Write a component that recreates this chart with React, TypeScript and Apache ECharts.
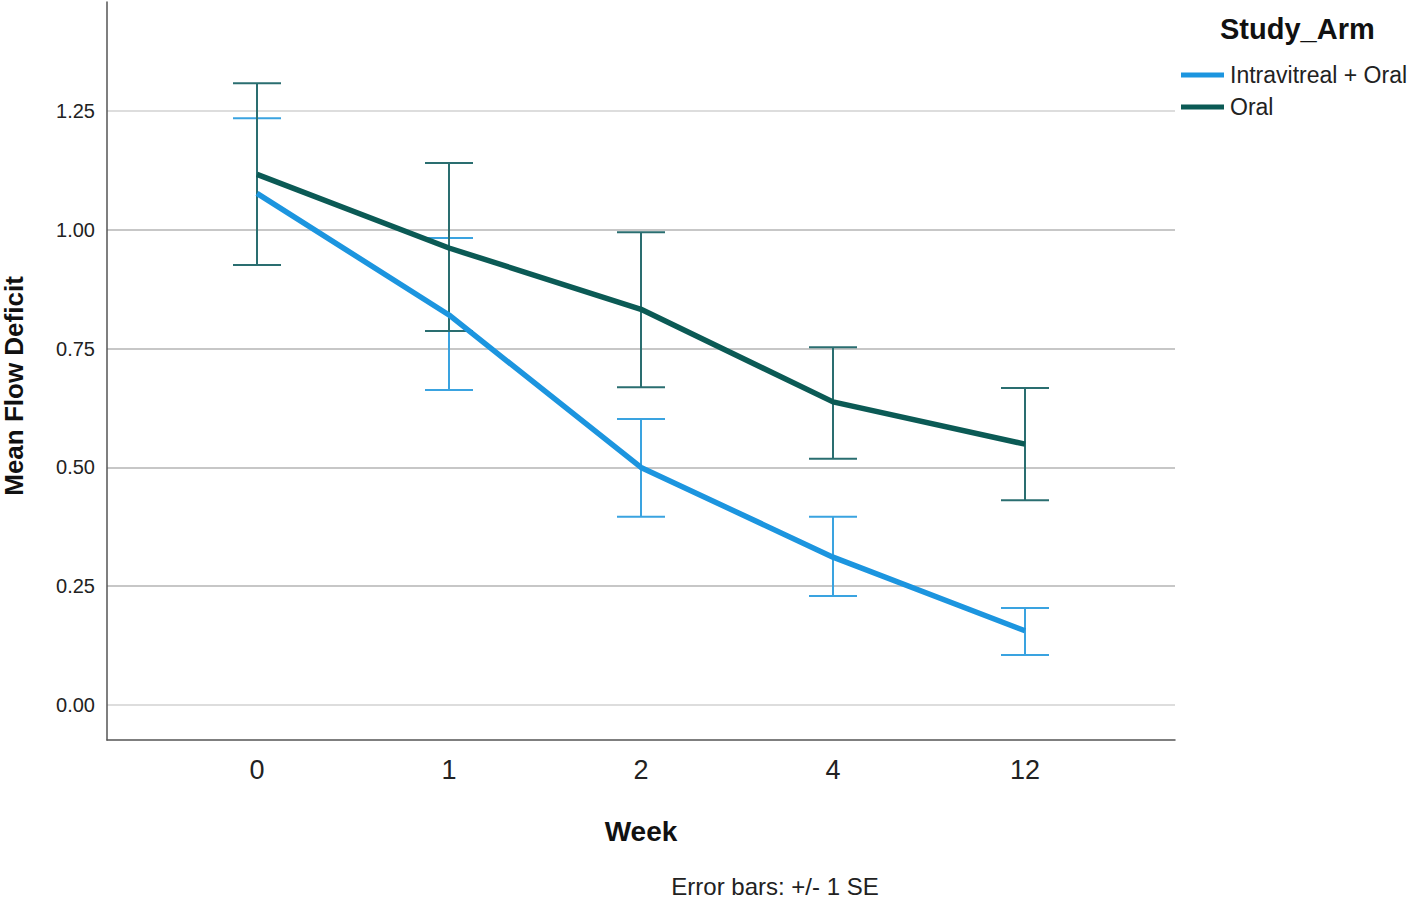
import React, { useEffect, useRef } from "react";
import * as echarts from "echarts";

const weekLabels = ["0", "1", "2", "4", "12"];
const yTicks = [0, 0.25, 0.5, 0.75, 1.0, 1.25];

const ivName = "Intravitreal + Oral";
const ivMean = [1.077, 0.821, 0.5, 0.311, 0.156];
const ivLow = [0.926, 0.663, 0.396, 0.229, 0.105];
const ivHigh = [1.235, 0.983, 0.602, 0.396, 0.204];

const oralName = "Oral";
const oralMean = [1.117, 0.962, 0.833, 0.638, 0.549];
const oralLow = [0.926, 0.787, 0.669, 0.518, 0.431];
const oralHigh = [1.309, 1.141, 0.995, 0.753, 0.667];

const FONT = "'Liberation Sans', Arial, sans-serif";

function errorSeries(name: string, low: number[], high: number[], color: string) {
  return {
    name,
    type: "custom",
    data: low.map((l, i) => [i, l, high[i]]),
    z: 3,
    renderItem: (params: any, api: any) => {
      const x = api.value(0);
      const lo = api.coord([x, api.value(1)]);
      const hi = api.coord([x, api.value(2)]);
      const hw = 24;
      const style = { stroke: color, lineWidth: 2 };
      return {
        type: "group",
        children: [
          { type: "line", shape: { x1: lo[0], y1: lo[1], x2: hi[0], y2: hi[1] }, style },
          { type: "line", shape: { x1: lo[0] - hw, y1: lo[1], x2: lo[0] + hw, y2: lo[1] }, style },
          { type: "line", shape: { x1: hi[0] - hw, y1: hi[1], x2: hi[0] + hw, y2: hi[1] }, style },
        ],
      };
    },
  };
}

export default function App() {
  const ref = useRef<HTMLDivElement>(null);
  useEffect(() => {
    const chart = echarts.init(ref.current!, null, { renderer: "svg" });
    const ivColor = "#1c95df";
    const oralColor = "#0b5a55";
    chart.setOption({
      animation: false,
      backgroundColor: "#ffffff",
      grid: { left: 107, right: 243, top: 2, bottom: 158, containLabel: false },
      xAxis: {
        type: "value",
        min: -0.78125,
        max: 4.78125,
        axisLine: { show: true, onZero: false, lineStyle: { color: "#555555", width: 1.5 } },
        axisTick: { show: false, customValues: [0, 1, 2, 3, 4] },
        splitLine: { show: false },
        axisLabel: {
          customValues: [0, 1, 2, 3, 4],
          formatter: (v: number) => weekLabels[Math.round(v)] ?? "",
          fontFamily: FONT,
          fontSize: 27,
          color: "#222222",
          margin: 16,
        },
      },
      yAxis: {
        type: "value",
        min: -0.074,
        max: 1.48,
        axisLine: { show: true, onZero: false, lineStyle: { color: "#555555", width: 1.5 } },
        axisTick: { show: false, customValues: yTicks },
        axisLabel: {
          customValues: yTicks,
          formatter: (v: number) => v.toFixed(2),
          fontFamily: FONT,
          fontSize: 20,
          color: "#222222",
          margin: 12,
        },
        splitLine: {
          show: true,
          lineStyle: {
            color: ["#d2d2d2", "#b4b4b4", "#b4b4b4", "#b4b4b4", "#b4b4b4", "#d2d2d2"],
            width: 1.6,
          },
        },
      },
      legend: {
        orient: "vertical",
        left: 1176,
        top: 58,
        padding: 5,
        data: [ivName, oralName],
        icon: "rect",
        itemWidth: 43,
        itemHeight: 5,
        itemGap: 8,
        selectedMode: false,
        textStyle: { fontFamily: FONT, fontSize: 23, color: "#222222", lineHeight: 24, padding: [0, 0, 0, 1] },
      },
      graphic: [
        {
          type: "text",
          left: 1220,
          top: 14,
          style: { text: "Study_Arm", font: `bold 29px ${FONT}`, fill: "#111111" },
        },
        {
          type: "text",
          x: 14,
          y: 386,
          rotation: Math.PI / 2,
          style: {
            text: "Mean Flow Deficit",
            font: `bold 26px ${FONT}`,
            fill: "#111111",
            align: "center",
            verticalAlign: "middle",
          },
        },
        {
          type: "text",
          x: 641,
          y: 831,
          style: {
            text: "Week",
            font: `bold 28px ${FONT}`,
            fill: "#111111",
            align: "center",
            verticalAlign: "middle",
          },
        },
        {
          type: "text",
          x: 775,
          y: 886,
          style: {
            text: "Error bars: +/- 1 SE",
            font: `24px ${FONT}`,
            fill: "#222222",
            align: "center",
            verticalAlign: "middle",
          },
        },
      ],
      series: [
        {
          name: ivName,
          type: "line",
          data: ivMean.map((v, i) => [i, v]),
          symbol: "none",
          lineStyle: { color: ivColor, width: 5.5 },
          itemStyle: { color: ivColor },
          z: 4,
        },
        {
          name: oralName,
          type: "line",
          data: oralMean.map((v, i) => [i, v]),
          symbol: "none",
          lineStyle: { color: oralColor, width: 5.5 },
          itemStyle: { color: oralColor },
          z: 4,
        },
        errorSeries("iv-err", ivLow, ivHigh, "#3aa3e0"),
        errorSeries("oral-err", oralLow, oralHigh, "#2a6e70"),
      ],
    });
    return () => chart.dispose();
  }, []);
  return (
    <div
      ref={ref}
      style={{ position: "absolute", left: 0, top: 0, width: 1418, height: 898 }}
    />
  );
}
